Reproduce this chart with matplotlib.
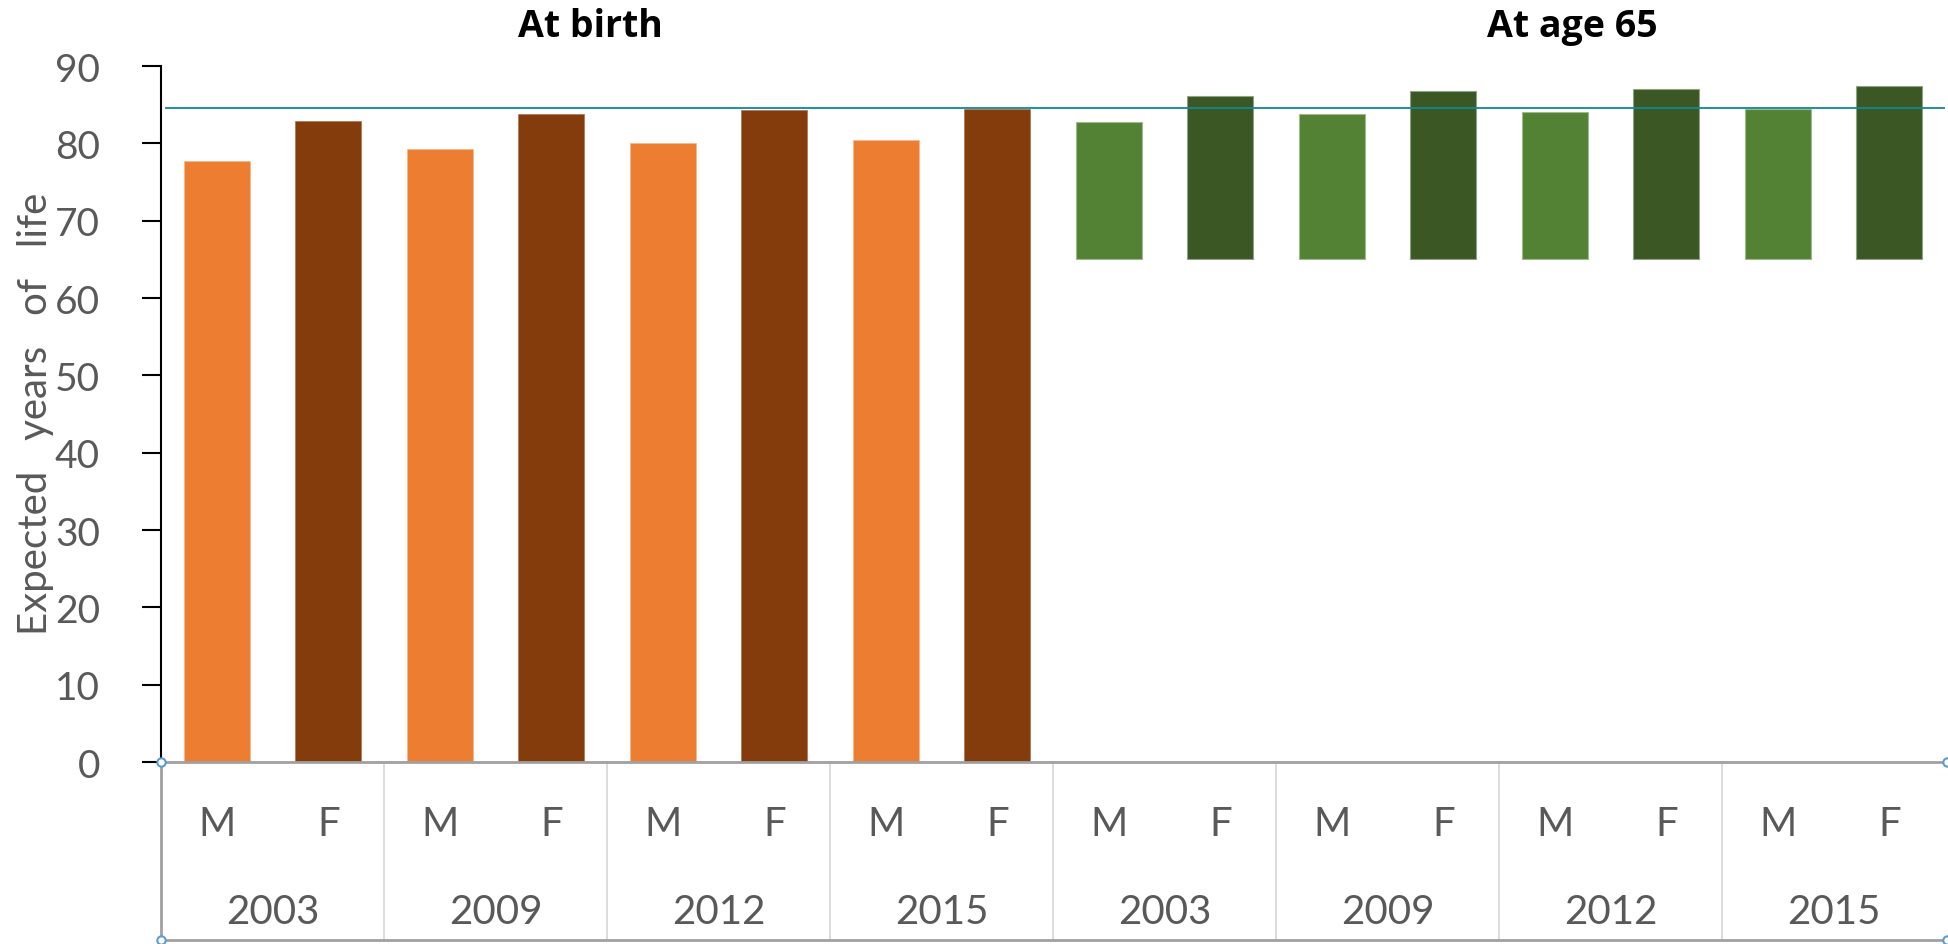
import matplotlib
matplotlib.use("Agg")
import matplotlib.pyplot as plt

# ---- data ----
years = ["2003", "2009", "2012", "2015"]
sexes = ["M", "F"]
birth_male = [77.7, 79.3, 80.0, 80.4]
birth_female = [82.9, 83.8, 84.3, 84.5]
age65_base = 65
age65_male_remaining = [17.7, 18.8, 19.0, 19.5]
age65_female_remaining = [21.1, 21.8, 22.0, 22.4]
reference_line = 84.6
group_titles = ["At birth", "At age 65"]
y_ticks = [0, 10, 20, 30, 40, 50, 60, 70, 80, 90]

# ---- style ----
FONT = ["Lato", "DejaVu Sans"]
plt.rcParams["font.family"] = FONT
GREY = "#595959"
c_bm, c_bf = "#ED7D31", "#843C0C"
c_am, c_af = "#548235", "#3A5724"

fig = plt.figure(figsize=(19.48, 9.45), dpi=100)
ax = fig.add_axes([161 / 1948, 1 - 763 / 945, (1945 - 161) / 1948, (763 - 67) / 945])

n = len(years)
xb_m = [2 * i for i in range(n)]
xb_f = [2 * i + 1 for i in range(n)]
xa_m = [2 * n + 2 * i for i in range(n)]
xa_f = [2 * n + 2 * i + 1 for i in range(n)]
w = 0.59

ax.bar(xb_m, birth_male, width=w, color=c_bm, edgecolor="#F6B98E", linewidth=0.6, zorder=2)
ax.bar(xb_f, birth_female, width=w, color=c_bf, edgecolor="#B07A5A", linewidth=0.6, zorder=2)
ax.bar(xa_m, age65_male_remaining, bottom=age65_base, width=w, color=c_am,
       edgecolor="#9DBB88", linewidth=0.8, zorder=2)
ax.bar(xa_f, age65_female_remaining, bottom=age65_base, width=w, color=c_af,
       edgecolor="#8FA383", linewidth=0.8, zorder=2)

ax.axhline(reference_line, xmin=0.003, xmax=1, color="#0E8896", linewidth=1.3, zorder=3)

ncat = 4 * n
ax.set_xlim(-0.5, ncat - 0.5)
ax.set_ylim(0, 90)
ax.set_yticks(y_ticks)
ax.set_yticklabels([str(t) for t in y_ticks], fontsize=28, color=GREY)
ax.tick_params(axis="y", length=14, width=1.5, color="black", pad=30)
ax.set_xticks([])

for s in ["top", "right"]:
    ax.spines[s].set_visible(False)
ax.spines["left"].set_color("black")
ax.spines["left"].set_linewidth(1.5)
ax.spines["bottom"].set_color("#A0A0A0")
ax.spines["bottom"].set_linewidth(2)

fig.text(36 / 1948, 1 - 414 / 945, "Expected   years   of   life", rotation=90,
         ha="center", va="center", fontsize=29, color=GREY)

# ---- category table below the axis ----
tr = ax.get_xaxis_transform()
y_bottom = -(941 - 763) / 696
y_sex = -(825 - 763) / 696
y_year = -(913 - 763) / 696

all_years = years + years
for k in range(ncat):
    ax.text(k, y_sex, sexes[k % 2], transform=tr, ha="center", va="center",
            fontsize=29, color=GREY)
for g in range(2 * n):
    ax.text(2 * g + 0.5, y_year, all_years[g], transform=tr, ha="center", va="center",
            fontsize=29, color=GREY)
for g in range(1, 2 * n):
    ax.plot([2 * g - 0.5, 2 * g - 0.5], [0, y_bottom], transform=tr, color="#D9D9D9",
            linewidth=1.3, clip_on=False)
ax.plot([-0.5, -0.5], [0, y_bottom], transform=tr, color="#A0A0A0", linewidth=2, clip_on=False)
ax.plot([-0.5, ncat - 0.5 + 0.2], [y_bottom, y_bottom], transform=tr, color="#A0A0A0",
        linewidth=2, clip_on=False)

# selection handles
for (xx, yy) in [(-0.5, 0), (-0.5, y_bottom), (ncat - 0.5 + 0.02, 0), (ncat - 0.5 + 0.02, y_bottom)]:
    ax.plot([xx], [yy], transform=tr, marker="o", markersize=6, markerfacecolor="white",
            markeredgecolor="#5B9BD5", markeredgewidth=1.5, clip_on=False, zorder=5)

# group titles
TFONT = ["Open Sans", "DejaVu Sans"]
fig.text(590 / 1948, 1 - 27 / 945, group_titles[0], ha="center", va="center",
         fontsize=27, fontweight="bold", color="black", family=TFONT)
fig.text(1572 / 1948, 1 - 27 / 945, group_titles[1], ha="center", va="center",
         fontsize=27, fontweight="bold", color="black", family=TFONT)

fig.savefig("out.png", dpi=100)
